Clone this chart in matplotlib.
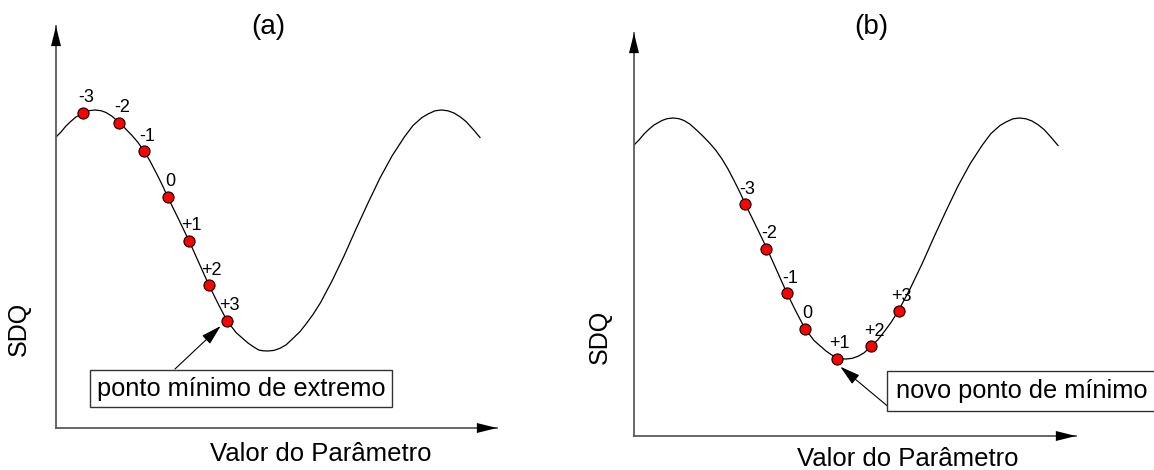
import matplotlib
matplotlib.use("Agg")
from matplotlib import pyplot as plt

plt.rcParams["font.family"] = ["Liberation Sans", "DejaVu Sans"]

# SDQ curve (same function in both panels)
curve_x = [0, 5, 10, 15, 20, 28, 33, 39, 45, 50, 56, 63, 69, 76, 82, 88, 94, 100, 106, 111.5, 122, 133,
           143, 153, 162, 171,
           180, 186, 192, 197, 202.7, 207, 212, 218, 224, 230, 237.4, 244, 250, 257, 264.6, 276, 288, 300,
           312, 324, 336, 348, 357, 366, 372, 379, 385.5, 392, 398, 404, 410, 417, 424]
curve_y = [291, 296, 302, 306.8, 311, 315.5, 317.3, 318, 317.3, 315.5, 311.8, 305.5, 299.8, 292.5, 285.5,
           277, 267, 255.5, 243.5, 231.5, 210, 187.3,
           165, 142.7, 124.5, 107.3,
           95.5, 90.2, 85, 81.5, 78, 77.2, 77, 77.6, 79.7, 83.1, 90, 96.4, 104, 113.5, 125.5, 147, 172, 199,
           225, 250, 272, 290.5, 302.5, 310.5, 314, 317.2, 318, 317.2, 315, 311.3, 306.5, 298.8, 290.5]

point_labels = ["-3", "-2", "-1", "0", "+1", "+2", "+3"]

# panel (a): search points before the move
a_x = [27.3, 63, 88.3, 111.7, 133, 153, 171]
a_y = [315.3, 305.3, 277, 231.3, 187.3, 142.7, 107.3]

# panel (b): search points around the new minimum
b_x = [110.9, 132.4, 153.3, 171.0, 202.7, 237.4, 264.6]
b_y = [231.7, 187.3, 142.7, 107.3, 77.3, 90, 125]

W, H = 1154, 470
fig = plt.figure(figsize=(W / 100, H / 100), dpi=100)


def fig_box(left, top, right, bottom):
    return [left / W, 1 - bottom / H, (right - left) / W, (bottom - top) / H]


def setup_axes(ax, w, h):
    ax.set_xlim(0, w)
    ax.set_ylim(0, h)
    ax.set_xticks([])
    ax.set_yticks([])
    ax.patch.set_alpha(0)
    ax.spines[["top", "right"]].set_visible(False)
    for s in ["left", "bottom"]:
        ax.spines[s].set_color("#5a5a5a")
        ax.spines[s].set_linewidth(1.3)
    head = dict(arrowstyle="-|>,head_length=1.45,head_width=0.36", mutation_scale=10,
                fc="k", ec="none", lw=0, shrinkA=0, shrinkB=0)
    ax.annotate("", xy=(1, 0), xytext=(1 - 21 / w, 0), xycoords="axes fraction", arrowprops=head)
    ax.annotate("", xy=(0, 1), xytext=(0, 1 - 21 / h), xycoords="axes fraction", arrowprops=head)


def draw_panel(ax, mx, my, note, note_xy, pad, tip, tail):
    ax.plot(curve_x, curve_y, color="k", lw=0.9, zorder=2)
    ax.plot(mx, my, "o", ms=8, mfc="red", mec="k", mew=0.8, ls="none", zorder=3)
    for lbl, x, y in zip(point_labels, mx, my):
        ax.annotate(lbl, (x, y), xytext=(2, 7.5), textcoords="offset points",
                    ha="center", va="baseline", fontsize=13, zorder=4)
    ax.text(note_xy[0], note_xy[1], note, ha="center", va="center", fontsize=18.3, zorder=5,
            bbox=dict(boxstyle=f"square,pad={pad}", fc="white", ec="#333333", lw=1.0))
    ax.annotate("", xy=tip, xytext=tail,
                arrowprops=dict(arrowstyle="-|>,head_length=1.25,head_width=0.35", mutation_scale=10,
                                color="k", lw=0.8, shrinkA=0, shrinkB=0))


ax_a = fig.add_axes(fig_box(56, 26, 497, 428))
setup_axes(ax_a, 441, 402)
draw_panel(ax_a, a_x, a_y, "ponto mínimo de extremo", (185, 39.2), 0.25, (164.7, 102), (119, 59))

ax_b = fig.add_axes(fig_box(634, 33, 1076, 436))
setup_axes(ax_b, 442, 403)
draw_panel(ax_b, b_x, b_y, "novo ponto de mínimo", (387.3, 44.7), 0.32, (206.3, 69.3), (254.3, 29.3))

# titles and axis labels
fig.text(268 / W, 1 - 33.5 / H, "(a)", ha="center", va="baseline", fontsize=20)
fig.text(871.4 / W, 1 - 34.2 / H, "(b)", ha="center", va="baseline", fontsize=20)
fig.text(320.8 / W, 1 - 461 / H, "Valor do Parâmetro", ha="center", va="baseline", fontsize=18.5)
fig.text(907.4 / W, 1 - 465.7 / H, "Valor do Parâmetro", ha="center", va="baseline", fontsize=18.5)
fig.text(19 / W, 1 - 329 / H, "SDQ", rotation=90, ha="center", va="center", fontsize=18)
fig.text(600 / W, 1 - 337 / H, "SDQ", rotation=90, ha="center", va="center", fontsize=18)

fig.savefig("out.png", dpi=100)
